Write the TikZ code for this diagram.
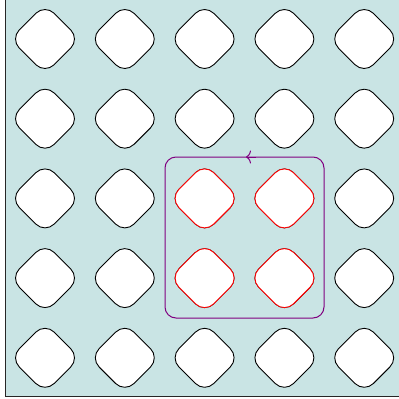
\documentclass[tikz,border=0pt]{standalone}
\usetikzlibrary{arrows.meta}
\definecolor{bgteal}{RGB}{201,228,228}
\definecolor{loopcol}{RGB}{128,0,128}
\tikzset{
  cell/.style={draw=black, fill=white, line width=0.9pt, rectangle, rotate=45,
    minimum width=49.3pt, minimum height=49.3pt, inner sep=0pt, rounded corners=13pt},
  redcell/.style={cell, draw=red},
}
\begin{document}
\begin{tikzpicture}[x=1pt,y=-1pt]
\useasboundingbox (0,0) rectangle (399,399);
\fill[bgteal] (5,0) rectangle (399,396);
\draw[black!85, line width=0.9pt] (5,0) -- (5,396) -- (399,396);
\foreach \i in {0,...,4}{
  \foreach \j in {0,...,4}{
    \pgfmathsetmacro{\cx}{45+79.8*\i}
    \pgfmathsetmacro{\cy}{39+79.7*\j}
    \node[cell] (c\i\j) at (\cx,\cy) {};
  }
}
\foreach \i/\j in {2/2,3/2,2/3,3/3}{
  \node[redcell] at (c\i\j) {};
}
\draw[loopcol, line width=1pt, rounded corners=11pt] (165,157) rectangle (324,318);
\coordinate (arrA) at (256,157);
\coordinate (arrB) at (246,157);
\draw[loopcol, line width=1pt, -{To[length=5pt,width=13pt]}] (arrA) -- (arrB);
\end{tikzpicture}
\end{document}
